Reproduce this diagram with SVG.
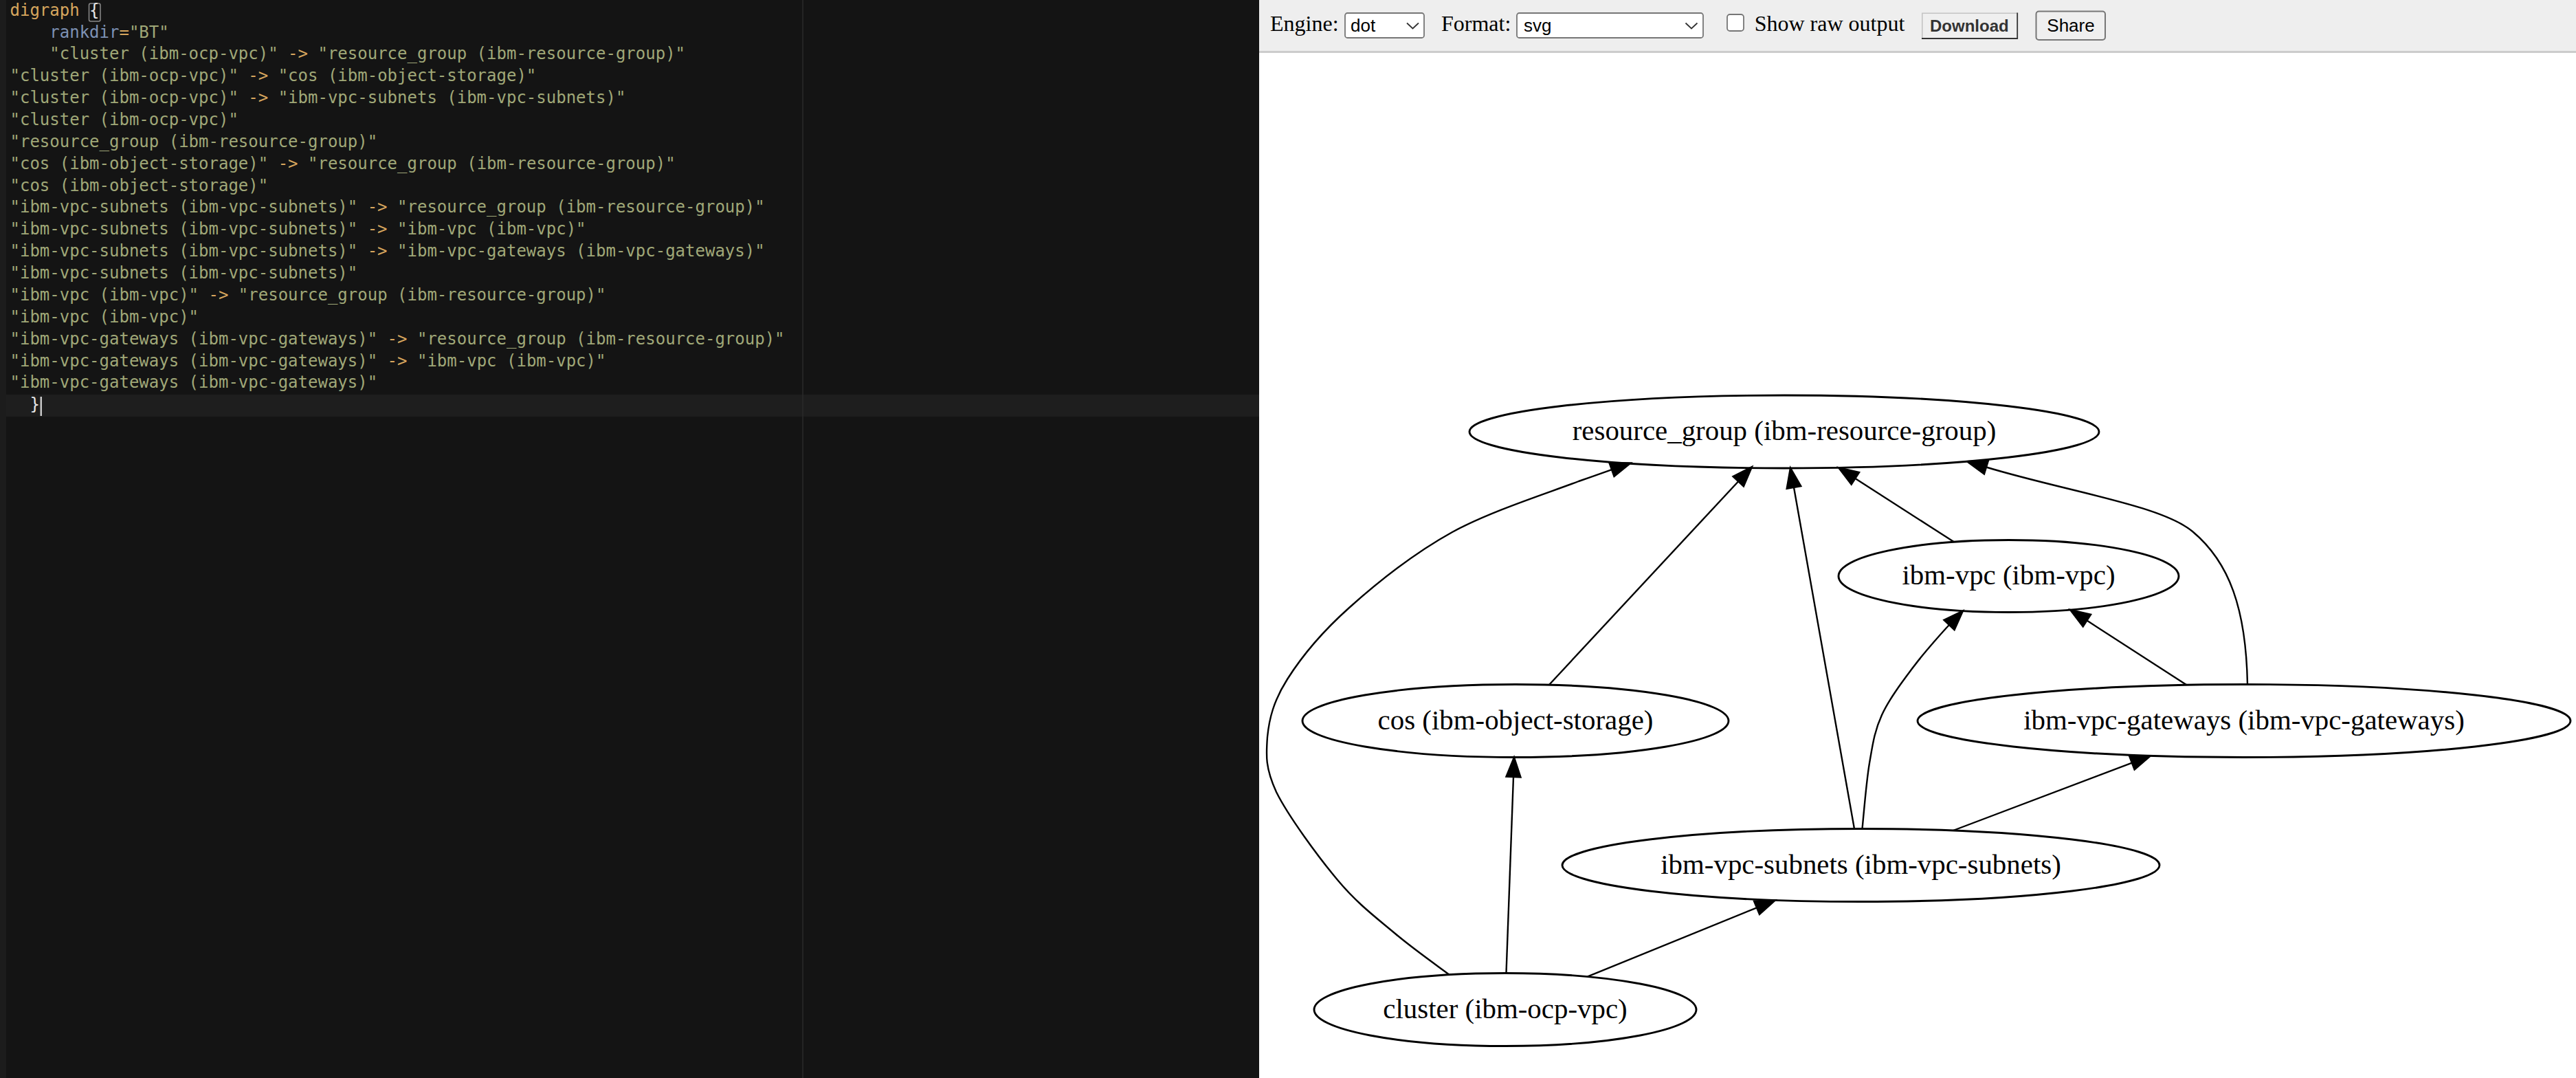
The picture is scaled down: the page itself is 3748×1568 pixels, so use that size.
<svg xmlns="http://www.w3.org/2000/svg" width="3748" height="1568" viewBox="0 0 3748 1568">
<style>
.code{font-family:"DejaVu Sans Mono","Liberation Mono",monospace;font-size:24px;fill:#a0a878}
.kw{fill:#d7a65e}.attr{fill:#7d91b4}.op{fill:#d7a65e}.br{fill:#e6e6e6}
.ui{font-family:"Liberation Serif","Times New Roman",serif;font-size:32px;fill:#000}
.uis{font-family:"Liberation Sans",Arial,sans-serif;font-size:26px;fill:#000}
.node ellipse{fill:none;stroke:#000;stroke-width:2.9}
.node text{font-family:"Liberation Serif","Times New Roman",serif;font-size:40.9px;text-anchor:middle;fill:#000}
#edges path{fill:none;stroke:#000;stroke-width:2.4}
#edges polygon{fill:#000;stroke:#000;stroke-width:2.4;stroke-linejoin:miter}
.ctl{fill:#fff;stroke:#767676;stroke-width:1.8}
.chev{fill:none;stroke:#333;stroke-width:1.8}
</style>
<!-- editor -->
<rect x="0" y="0" width="1832" height="1568" fill="#141414"/>
<rect x="0" y="0" width="9" height="1568" fill="#1c1c1c"/>
<rect x="9" y="574" width="1823" height="32" fill="#1e1e1e"/>
<rect x="1167.3" y="0" width="1.5" height="1568" fill="#2a2a2a"/>
<rect x="129.5" y="5" width="16.5" height="26" rx="2.5" fill="none" stroke="#8a8a8a" stroke-width="1.5"/>
<rect x="58.5" y="577" width="2.5" height="28" fill="#c8c8c8"/>
<g class="code">
<text x="14.5" y="22.7"><tspan class="kw">digraph</tspan> <tspan class="br">{</tspan></text>
<text x="72.3" y="54.6"><tspan class="attr">rankdir</tspan><tspan class="op">=</tspan>"BT"</text>
<text x="72.3" y="86.4">"cluster (ibm-ocp-vpc)" <tspan class="op">-&gt;</tspan> "resource_group (ibm-resource-group)"</text>
<text x="14.5" y="118.3">"cluster (ibm-ocp-vpc)" <tspan class="op">-&gt;</tspan> "cos (ibm-object-storage)"</text>
<text x="14.5" y="150.1">"cluster (ibm-ocp-vpc)" <tspan class="op">-&gt;</tspan> "ibm-vpc-subnets (ibm-vpc-subnets)"</text>
<text x="14.5" y="182.0">"cluster (ibm-ocp-vpc)"</text>
<text x="14.5" y="213.9">"resource_group (ibm-resource-group)"</text>
<text x="14.5" y="245.7">"cos (ibm-object-storage)" <tspan class="op">-&gt;</tspan> "resource_group (ibm-resource-group)"</text>
<text x="14.5" y="277.6">"cos (ibm-object-storage)"</text>
<text x="14.5" y="309.4">"ibm-vpc-subnets (ibm-vpc-subnets)" <tspan class="op">-&gt;</tspan> "resource_group (ibm-resource-group)"</text>
<text x="14.5" y="341.3">"ibm-vpc-subnets (ibm-vpc-subnets)" <tspan class="op">-&gt;</tspan> "ibm-vpc (ibm-vpc)"</text>
<text x="14.5" y="373.2">"ibm-vpc-subnets (ibm-vpc-subnets)" <tspan class="op">-&gt;</tspan> "ibm-vpc-gateways (ibm-vpc-gateways)"</text>
<text x="14.5" y="405.0">"ibm-vpc-subnets (ibm-vpc-subnets)"</text>
<text x="14.5" y="436.9">"ibm-vpc (ibm-vpc)" <tspan class="op">-&gt;</tspan> "resource_group (ibm-resource-group)"</text>
<text x="14.5" y="468.7">"ibm-vpc (ibm-vpc)"</text>
<text x="14.5" y="500.6">"ibm-vpc-gateways (ibm-vpc-gateways)" <tspan class="op">-&gt;</tspan> "resource_group (ibm-resource-group)"</text>
<text x="14.5" y="532.5">"ibm-vpc-gateways (ibm-vpc-gateways)" <tspan class="op">-&gt;</tspan> "ibm-vpc (ibm-vpc)"</text>
<text x="14.5" y="564.3">"ibm-vpc-gateways (ibm-vpc-gateways)"</text>
<text x="43.4" y="596.2" class="br">}</text>
</g>
<!-- right panel -->
<rect x="1832" y="0" width="1916" height="1568" fill="#ffffff"/>
<rect x="1832" y="0" width="1916" height="74" fill="#eeeeee"/>
<rect x="1832" y="74" width="1916" height="3" fill="#cccccc"/>
<g id="toolbar">
<text class="ui" x="1848" y="45">Engine:</text>
<rect class="ctl" x="1957" y="19" width="115" height="36" rx="3.5"/>
<text class="uis" x="1965" y="45.5">dot</text>
<polyline class="chev" points="2047,33.5 2055.5,41.5 2064,33.5"/>
<text class="ui" x="2097" y="45">Format:</text>
<rect class="ctl" x="2207" y="19" width="271" height="36" rx="3.5"/>
<text class="uis" x="2217" y="45.5">svg</text>
<polyline class="chev" points="2452.5,33.5 2461,41.5 2469.5,33.5"/>
<rect class="ctl" x="2513" y="21" width="24" height="24" rx="4"/>
<text class="ui" x="2552.7" y="45">Show raw output</text>
<rect x="2796" y="18.5" width="140" height="38" fill="#efefef"/>
<polyline points="2796.8,56 2796.8,19.3 2935.2,19.3" fill="none" stroke="#c4c4c4" stroke-width="1.6"/>
<polyline points="2796,56 2935.2,56 2935.2,18.5" fill="none" stroke="#333" stroke-width="1.8"/>
<text x="2808" y="45.5" font-family="Liberation Sans, Arial, sans-serif" font-size="24" font-weight="bold" fill="#333">Download</text>
<rect x="2962.5" y="16.5" width="100.5" height="41.5" rx="4" fill="#efefef" stroke="#767676" stroke-width="2"/>
<text class="uis" x="2978.3" y="45.7">Share</text>
</g>
<!-- graph -->
<g id="edges">
<path d="M2109,1418 C2095.8,1408 2057,1380.8 2030,1358 C2003,1335.2 1975.8,1315.3 1947,1281 C1918.2,1246.7 1874.2,1186.8 1857,1152 C1841,1117.2 1842,1099.3 1844,1072 C1846.7,1044.7 1853.2,1019.3 1873,988 C1892.8,956.7 1923,919.7 1963,884 C2003,848.3 2057.3,804.7 2113,774 C2168.7,743.3 2258.3,715.1 2297,700 C2313,694.4 2329.9,688.5 2345,683.2"/>
<polygon points="2372.5,673.5 2348.5,693.1 2341.5,673.3"/>
<path d="M2254,996 L2529.2,700.2"/>
<polygon points="2549,679 2536.9,707.4 2521.5,693"/>
<path d="M2191.5,1415.5 L2202,1130"/>
<polygon points="2203,1101.5 2212.5,1130.4 2191.5,1129.6"/>
<path d="M2309.5,1420.6 L2556,1320.3"/>
<polygon points="2583,1309.3 2560,1330 2552,1310.6"/>
<path d="M2698,1205.5 L2610,709"/>
<polygon points="2605,680.5 2620.3,707.2 2599.7,710.8"/>
<path d="M2709.5,1205.5 C2711.25,1189.6 2715.25,1137.6 2720,1110 C2724.75,1082.4 2727.3,1063.3 2738,1040 C2748.7,1016.7 2767.7,991.8 2784,970 C2800.3,948.2 2829.1,916.2 2836,909"/>
<polygon points="2856,888.6 2843.6,916.3 2828.4,901.8"/>
<path d="M2841.8,1208 L3101.9,1109.6"/>
<polygon points="3129,1099.3 3105.6,1119.4 3098.2,1099.8"/>
<path d="M2843,788.3 L2699.4,695.9"/>
<polygon points="2675,680.2 2705.1,687.1 2693.7,704.7"/>
<path d="M3181.4,996.3 L3036.4,902.6"/>
<polygon points="3012,886.9 3042.1,893.8 3030.7,911.4"/>
<path d="M3270,995.5 C3268,885.5 3243.8,817.8 3190,773 C3143.9,734.6 3004.7,714.3 2890,679.5"/>
<polygon points="2862,671.2 2893.05,669.46 2886.95,689.54"/>
</g>
<g id="node-resource_group" class="node">
<ellipse cx="2596" cy="628" rx="458" ry="53"/>
<text x="2596" y="640.3">resource_group (ibm-resource-group)</text>
</g>
<g id="node-ibm-vpc" class="node">
<ellipse cx="2922.5" cy="838" rx="247.5" ry="52.5"/>
<text x="2922.5" y="850.3">ibm-vpc (ibm-vpc)</text>
</g>
<g id="node-cos" class="node">
<ellipse cx="2205" cy="1048.5" rx="310" ry="53"/>
<text x="2205" y="1060.8">cos (ibm-object-storage)</text>
</g>
<g id="node-ibm-vpc-gateways" class="node">
<ellipse cx="3265" cy="1048.5" rx="475" ry="53"/>
<text x="3265" y="1060.8">ibm-vpc-gateways (ibm-vpc-gateways)</text>
</g>
<g id="node-ibm-vpc-subnets" class="node">
<ellipse cx="2707.5" cy="1258.5" rx="434.5" ry="53"/>
<text x="2707.5" y="1270.8">ibm-vpc-subnets (ibm-vpc-subnets)</text>
</g>
<g id="node-cluster" class="node">
<ellipse cx="2190" cy="1468.5" rx="278" ry="53"/>
<text x="2190" y="1480.8">cluster (ibm-ocp-vpc)</text>
</g>
</svg>
